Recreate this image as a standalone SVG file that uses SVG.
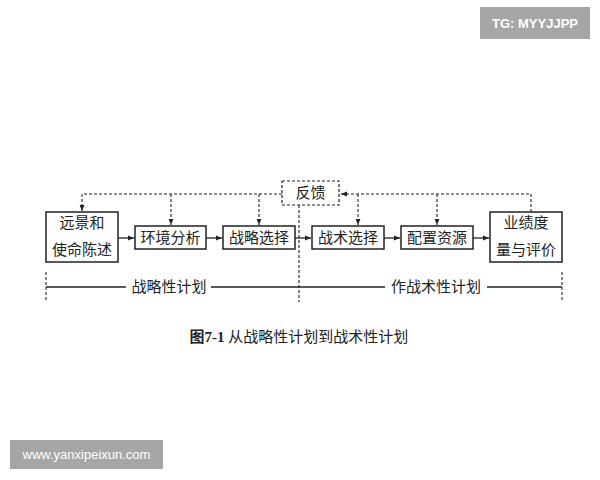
<svg xmlns="http://www.w3.org/2000/svg" width="600" height="480" viewBox="0 0 600 480">
<defs>
<marker id="ah" viewBox="0 0 10 10" refX="10" refY="5" markerWidth="6" markerHeight="6" orient="auto" markerUnits="userSpaceOnUse">
<path d="M0,1 L10,5 L0,9 z" fill="#222"/>
</marker>
</defs>
<style>
.box{fill:#fff;stroke:#222;stroke-width:1.5}
.dbox{fill:#fff;stroke:#222;stroke-width:1.2;stroke-dasharray:3,2}
.t{font-family:"Liberation Serif","Noto Sans CJK SC",serif;font-size:15px;fill:#222;text-anchor:middle}
.cap{font-family:"Liberation Serif","Noto Sans CJK SC",serif;font-size:15px;fill:#222;text-anchor:middle}
.ln{fill:none;stroke:#222;stroke-width:1.3}
.dl{fill:none;stroke:#222;stroke-width:1.1;stroke-dasharray:3,2}
.wm{fill:#a6a6a6}
.wt{font-family:"Liberation Sans",Arial,sans-serif;font-size:13px;fill:#fff;text-anchor:middle}
</style>
<rect width="600" height="480" fill="#fff"/>
<g id="connectors">
<path class="dl" d="M282,194 H82 V211" marker-end="url(#ah)"/>
<path class="dl" d="M171,194 V225" marker-end="url(#ah)"/>
<path class="dl" d="M259,194 V225" marker-end="url(#ah)"/>
<path class="dl" d="M531,212 V194 H341" marker-end="url(#ah)"/>
<path class="dl" d="M358,194 V225" marker-end="url(#ah)"/>
<path class="dl" d="M437,194 V225" marker-end="url(#ah)"/>
<path class="dl" d="M299,205 V302"/>
<path class="dl" d="M46,272 V302"/>
<path class="dl" d="M562,272 V302"/>
<path class="ln" d="M118,238 H134" marker-end="url(#ah)"/>
<path class="ln" d="M206,238 H222" marker-end="url(#ah)"/>
<path class="ln" d="M295,238 H311" marker-end="url(#ah)"/>
<path class="ln" d="M384,238 H400" marker-end="url(#ah)"/>
<path class="ln" d="M473,238 H489" marker-end="url(#ah)"/>
<path class="ln" d="M46,287 H126"/>
<path class="ln" d="M211,287 H385"/>
<path class="ln" d="M487,287 H562"/>
</g>
<g id="n-feedback"><rect class="dbox" x="282" y="181" width="57" height="24"/><text class="t" x="310.5" y="198">反馈</text></g>
<g id="n-vision"><rect class="box" x="46" y="212" width="72" height="50"/><text class="t" x="82" y="228">远景和</text><text class="t" x="82" y="255">使命陈述</text></g>
<g id="n-env"><rect class="box" x="135" y="226" width="71" height="23"/><text class="t" x="170.5" y="243">环境分析</text></g>
<g id="n-strat"><rect class="box" x="223" y="226" width="72" height="23"/><text class="t" x="259" y="243">战略选择</text></g>
<g id="n-tact"><rect class="box" x="312" y="226" width="72" height="23"/><text class="t" x="348" y="243">战术选择</text></g>
<g id="n-res"><rect class="box" x="401" y="226" width="72" height="23"/><text class="t" x="437" y="243">配置资源</text></g>
<g id="n-perf"><rect class="box" x="490" y="212" width="72" height="50"/><text class="t" x="526" y="228">业绩度</text><text class="t" x="526" y="255">量与评价</text></g>
<text class="t" x="169" y="292">战略性计划</text>
<text class="t" x="436" y="292">作战术性计划</text>
<text class="cap" x="299" y="342"><tspan font-weight="bold">图7-1</tspan>  从战略性计划到战术性计划</text>
<rect class="wm" x="480" y="7" width="110" height="32"/>
<text class="wt" x="535" y="28" font-size="14" font-weight="bold">TG: MYYJJPP</text>
<rect class="wm" x="10" y="440" width="153" height="29"/>
<text class="wt" x="86.5" y="459">www.yanxipeixun.com</text>
</svg>
